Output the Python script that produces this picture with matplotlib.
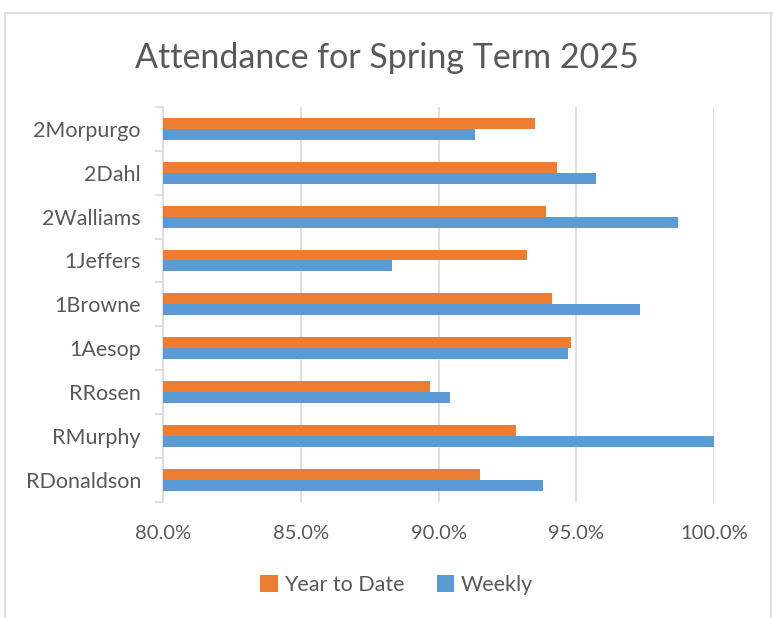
import matplotlib.pyplot as plt
from matplotlib.ticker import FuncFormatter, FixedLocator
from matplotlib.lines import Line2D
import numpy as np

plt.rcParams['font.family'] = ['Lato', 'DejaVu Sans']

# categories bottom-up as drawn
classes = ['RDonaldson', 'RMurphy', 'RRosen', '1Aesop', '1Browne',
           '1Jeffers', '2Walliams', '2Dahl', '2Morpurgo']
year_to_date = [91.5, 92.8, 89.7, 94.8, 94.1, 93.2, 93.9, 94.3, 93.5]
weekly = [93.8, 100.0, 90.4, 94.7, 97.3, 88.3, 98.7, 95.7, 91.3]

orange = '#ED7D31'
blue = '#5B9BD5'
txt = '#595959'
grid = '#D9D9D9'

fig = plt.figure(figsize=(7.73, 6.18), dpi=100)
ax = fig.add_axes([0.211, 0.188, 0.713, 0.639])

y = np.arange(len(classes))
h = 0.25
ax.barh(y + h / 2, year_to_date, height=h, color=orange, label='Year to Date', zorder=3)
ax.barh(y - h / 2, weekly, height=h, color=blue, label='Weekly', zorder=3)

ax.set_xlim(80, 100)
ax.set_ylim(-0.5, len(classes) - 0.5)
ax.set_xticks([80, 85, 90, 95, 100])
ax.xaxis.set_major_formatter(FuncFormatter(lambda v, p: '%.1f%%' % v))
ax.grid(axis='x', color=grid, linewidth=1.2, zorder=0)

# category labels as minor ticks, boundary marks as major ticks
ax.yaxis.set_major_locator(FixedLocator(np.arange(-0.5, len(classes), 1)))
ax.yaxis.set_major_formatter(FuncFormatter(lambda v, p: ''))
ax.set_yticks(y, minor=True)
ax.set_yticklabels(classes, minor=True)
ax.tick_params(axis='y', which='major', length=6, width=1.2, color=grid)
ax.tick_params(axis='y', which='minor', length=0, pad=16, labelsize=15.5, labelcolor=txt)
ax.tick_params(axis='x', length=0, pad=17, labelsize=14.5, labelcolor=txt)

for s in ['top', 'right', 'bottom']:
    ax.spines[s].set_visible(False)
ax.spines['left'].set_color(grid)
ax.spines['left'].set_linewidth(1.2)

fig.text(0.5, 1 - 58 / 618, 'Attendance for Spring Term 2025', ha='center', va='center',
         fontsize=24.5, color=txt)

fig.legend(loc='center', bbox_to_anchor=(0.513, 1 - 585 / 618), ncol=2, frameon=False,
           fontsize=15.5, labelcolor=txt, handlelength=0.8, handleheight=0.8,
           handletextpad=0.3, columnspacing=1.5)

# chart area border
fig.add_artist(Line2D([5 / 773, 5 / 773], [0, 1 - 13 / 618], color=grid, linewidth=1.2))
fig.add_artist(Line2D([5 / 773, 1], [1 - 13 / 618, 1 - 13 / 618], color=grid, linewidth=1.2))
fig.add_artist(Line2D([771 / 773, 771 / 773], [0, 1 - 13 / 618], color=grid, linewidth=1.2))

fig.savefig('out.png', dpi=100)
